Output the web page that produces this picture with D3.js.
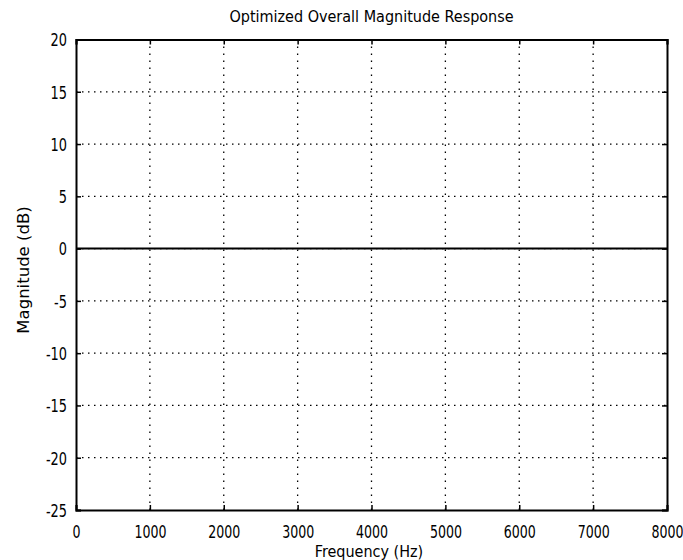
<!DOCTYPE html>
<html><head><meta charset="utf-8">
<script src="https://cdn.jsdelivr.net/npm/d3@7"></script>
<style>
body{margin:0;background:#fff;}
text{font-family:"DejaVu Sans Condensed","Liberation Sans Narrow","Arial Narrow",sans-serif;font-stretch:condensed;fill:#000;}
</style></head>
<body><svg id="c" width="683" height="560"></svg>
<script>
const title = "Optimized Overall Magnitude Response";
const xLabel = "Frequency (Hz)";
const yLabel = "Magnitude (dB)";
const xTicks = [0,1000,2000,3000,4000,5000,6000,7000,8000];
const yTicks = [20,15,10,5,0,-5,-10,-15,-20,-25];
const freq = [0,1000,2000,3000,4000,5000,6000,7000,8000];
const magnitude = [0,0,0,0,0,0,0,0,0];

const svg = d3.select("#c");
const L=76, R=667, T=39.5, B=510;
const x = d3.scaleLinear().domain([0,8000]).range([L,R]);
const y = d3.scaleLinear().domain([-25,20]).range([B,T]);

// grid
const g = svg.append("g");
g.selectAll(".gx").data(xTicks.slice(1,-1)).enter().append("line")
 .attr("x1",d=>x(d)).attr("x2",d=>x(d)).attr("y1",T).attr("y2",B)
 .attr("stroke","#000").attr("stroke-width",1.3).attr("stroke-dasharray","1.5,5.5");
g.selectAll(".gy").data(yTicks.slice(1,-1)).enter().append("line")
 .attr("y1",d=>y(d)).attr("y2",d=>y(d)).attr("x1",L).attr("x2",R)
 .attr("stroke","#000").attr("stroke-width",1.3).attr("stroke-dasharray","1.5,4.5");

const fmt = d => String(d);
// axes
const ax = svg.append("g").attr("transform",`translate(0,${B})`)
 .call(d3.axisBottom(x).tickValues(xTicks).tickSize(-5).tickFormat(fmt));
const axT = svg.append("g").attr("transform",`translate(0,${T})`)
 .call(d3.axisTop(x).tickValues(xTicks).tickSize(-5).tickFormat(""));
const ay = svg.append("g").attr("transform",`translate(${L},0)`)
 .call(d3.axisLeft(y).tickValues(yTicks).tickSize(-5).tickFormat(fmt));
const ayR = svg.append("g").attr("transform",`translate(${R},0)`)
 .call(d3.axisRight(y).tickValues(yTicks).tickSize(-5).tickFormat(""));
[ax,axT,ay,ayR].forEach(a=>{
  a.select(".domain").attr("stroke","#000").attr("stroke-width",2);
  a.selectAll(".tick line").attr("stroke","#000").attr("stroke-width",1.5);
  a.selectAll(".tick text").style("font-size","17.5px").attr("fill","#000");
});
ax.selectAll(".tick text").attr("dy",null).attr("y",0)
  .attr("transform","translate(0,28) scale(0.8,1)");
ay.selectAll(".tick text").attr("x",0).attr("dy","0.36em")
  .attr("transform","translate(-9,0) scale(0.82,1)");

// data line
svg.append("path").datum(freq.map((f,i)=>[f,magnitude[i]]))
 .attr("fill","none").attr("stroke","#000").attr("stroke-width",2)
 .attr("d",d3.line().x(d=>x(d[0])).y(d=>y(d[1])));

// labels
svg.append("text").attr("x",(L+R)/2).attr("y",22).attr("text-anchor","middle")
 .style("font-size","16px").text(title);
svg.append("text").attr("x",369).attr("y",557).attr("text-anchor","middle")
 .style("font-size","16px").text(xLabel);
svg.append("text").attr("transform",`translate(29,270) rotate(-90)`)
 .attr("text-anchor","middle").style("font-family","'DejaVu Sans',sans-serif")
 .style("font-stretch","normal").style("font-size","16.5px").text(yLabel);
</script></body></html>
